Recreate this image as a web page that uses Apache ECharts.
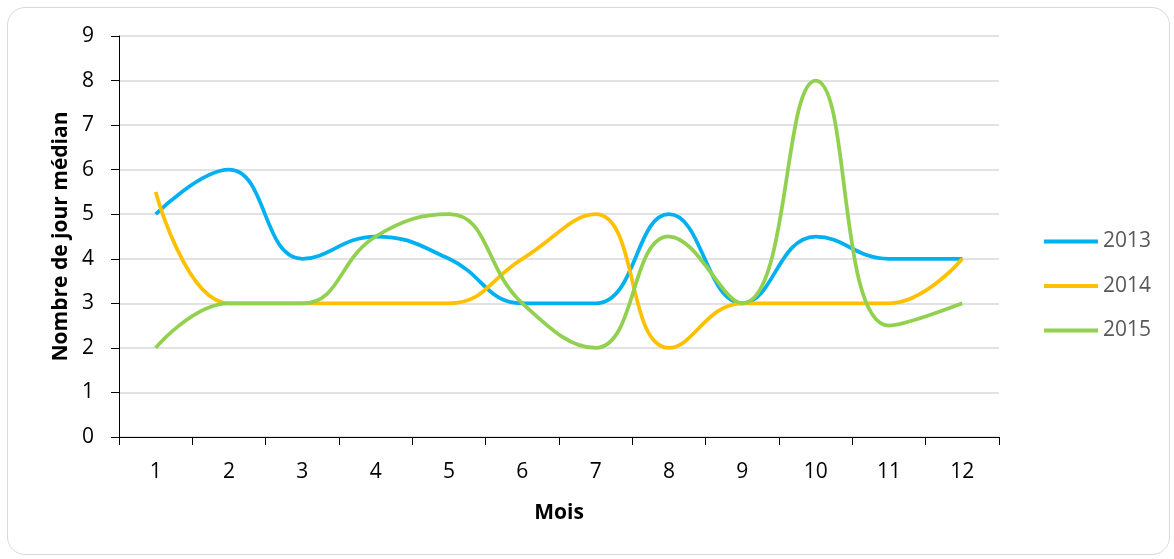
<!DOCTYPE html>
<html>
<head>
<meta charset="utf-8">
<script src="https://cdn.jsdelivr.net/npm/echarts@6/dist/echarts.min.js"></script>
<style>
html,body{margin:0;padding:0;background:#fff;}
#frame{position:absolute;left:7px;top:7px;width:1163px;height:548px;border:1px solid #d9d9d9;border-radius:18px;box-sizing:border-box;}
#chart{position:absolute;left:0;top:0;width:1174px;height:559px;}
</style>
</head>
<body>
<div id="frame"></div>
<div id="chart"></div>
<script>
const months = ['1','2','3','4','5','6','7','8','9','10','11','12'];
const yTicks = [0,1,2,3,4,5,6,7,8,9];
const s2013 = [5, 6, 4, 4.5, 4, 3, 3, 5, 3, 4.5, 4, 4];
const s2014 = [5.5, 3, 3, 3, 3, 4, 5, 2, 3, 3, 3, 4];
const s2015 = [2, 3, 3, 4.5, 5, 3, 2, 4.5, 3, 8, 2.5, 3];
const seriesNames = ['2013','2014','2015'];
const colors = ['#00B0F0','#FFC000','#92D050'];

const font = '"Open Sans", "Liberation Sans", sans-serif';
const chart = echarts.init(document.getElementById('chart'), null, {renderer:'canvas'});
const data = [s2013, s2014, s2015];
chart.setOption({
  animation:false,
  backgroundColor:'transparent',
  grid:{left:119, right:175, top:36, bottom:122},
  legend:{
    orient:'vertical', left:1039, top:226,
    icon:'rect', itemWidth:54, itemHeight:4, itemGap:23.5,
    textStyle:{fontFamily:font, fontSize:21, color:'#595959'},
    data:seriesNames
  },
  xAxis:{
    type:'category', data:months, boundaryGap:true,
    name:'Mois', nameLocation:'middle', nameGap:66,
    nameTextStyle:{fontFamily:font, fontSize:21, fontWeight:'bold', color:'#000'},
    axisLine:{lineStyle:{color:'#000', width:1}},
    axisTick:{show:true, length:8, alignWithLabel:false, lineStyle:{color:'#000'}},
    axisLabel:{fontFamily:font, fontSize:21, color:'#000', margin:25}
  },
  yAxis:{
    type:'value', min:yTicks[0], max:yTicks[yTicks.length-1], interval:1,
    name:'Nombre de jour médian', nameLocation:'middle', nameGap:47, nameRotate:90,
    nameTextStyle:{fontFamily:font, fontSize:21, fontWeight:'bold', color:'#000'},
    axisLine:{show:true, lineStyle:{color:'#000', width:1}},
    axisTick:{show:true, length:8, lineStyle:{color:'#000'}},
    axisLabel:{fontFamily:font, fontSize:21, color:'#000', margin:25},
    splitLine:{lineStyle:{color:'#d9d9d9', width:1.5}}
  },
  series: seriesNames.map((n,i)=>({
    name:n, type:'line', data:data[i], smooth:0.45,
    showSymbol:false, symbol:'none',
    lineStyle:{color:colors[i], width:3.75},
    itemStyle:{color:colors[i]}
  }))
});
</script>
</body>
</html>
